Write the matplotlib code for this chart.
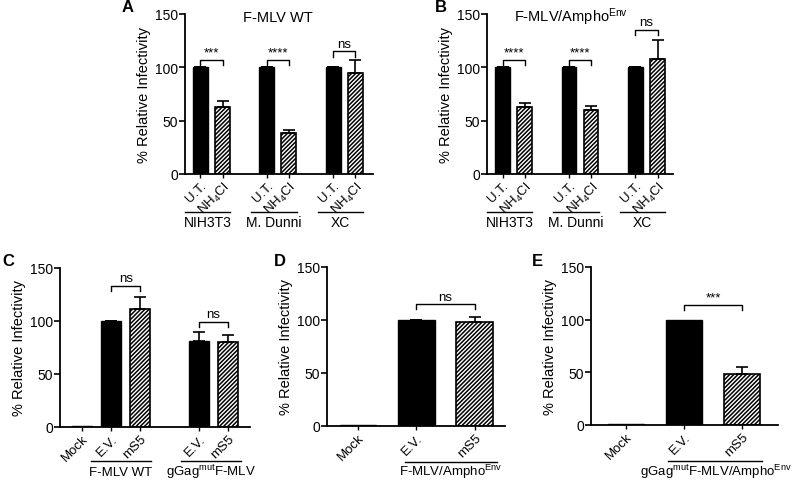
import matplotlib
matplotlib.use("Agg")
import matplotlib.pyplot as plt

plt.rcParams['font.family'] = ['Liberation Sans', 'DejaVu Sans']
plt.rcParams['mathtext.fontset'] = 'custom'
plt.rcParams['mathtext.rm'] = 'Liberation Sans'
plt.rcParams['mathtext.it'] = 'Liberation Sans:italic'
plt.rcParams['mathtext.bf'] = 'Liberation Sans:bold'
plt.rcParams['hatch.linewidth'] = 1.1

# ---------------- data ----------------
# Panel A: F-MLV WT
a_labels = ['U.T.', 'NH$_4$Cl', 'U.T.', 'NH$_4$Cl', 'U.T.', 'NH$_4$Cl']
a_values = [100, 63, 100, 38, 100, 95]
a_errors = [0.3, 5, 0.3, 3, 0.3, 12]
a_groups = ['NIH3T3', 'M. Dunni', 'XC']
a_sig = ['***', '****', 'ns']

# Panel B: F-MLV/Ampho Env
b_labels = ['U.T.', 'NH$_4$Cl', 'U.T.', 'NH$_4$Cl', 'U.T.', 'NH$_4$Cl']
b_values = [100, 63, 100, 60, 100, 108]
b_errors = [0.3, 4, 0.3, 4, 0.3, 18]
b_groups = ['NIH3T3', 'M. Dunni', 'XC']
b_sig = ['****', '****', 'ns']

# Panel C
c_labels = ['Mock', 'E.V.', 'mS5', 'E.V.', 'mS5']
c_values = [0.5, 100, 111, 81, 80]
c_errors = [0, 0.3, 12, 9, 7]
c_groups = ['F-MLV WT', r'gGag$^{\mathrm{mut}}$F-MLV']
c_sig = ['ns', 'ns']

# Panel D
d_labels = ['Mock', 'E.V.', 'mS5']
d_values = [0.5, 100, 98.5]
d_errors = [0, 0.3, 4]
d_groups = [r'F-MLV/Ampho$^{\mathrm{Env}}$']
d_sig = ['ns']

# Panel E
e_labels = ['Mock', 'E.V.', 'mS5']
e_values = [0.8, 100, 48.5]
e_errors = [0, 0, 7]
e_groups = [r'gGag$^{\mathrm{mut}}$F-MLV/Ampho$^{\mathrm{Env}}$']
e_sig = ['***']

W, H = 800, 481
fig = plt.figure(figsize=(8, 4.81), dpi=100)


def make_ax(left, right, top, bottom):
    return fig.add_axes([left / W, (H - bottom) / H, (right - left) / W, (bottom - top) / H])


def style(ax):
    for s in ['top', 'right']:
        ax.spines[s].set_visible(False)
    for s in ['left', 'bottom']:
        ax.spines[s].set_linewidth(1.3)
    ax.set_ylim(0, 150)
    ax.set_yticks([0, 50, 100, 150])
    ax.tick_params(axis='y', direction='out', length=4, width=1.2, labelsize=10, pad=1)
    ax.tick_params(axis='x', direction='out', length=3, width=1.0, labelsize=9.5, pad=1)
    ax.set_ylabel('% Relative Infectivity', fontsize=10.5, labelpad=3)


def draw_bars(ax, pos, vals, errs, hatched, width):
    for p, v, e, h in zip(pos, vals, errs, hatched):
        if h:
            ax.bar(p, v, width=width, color='white', edgecolor='black', hatch='////////',
                   linewidth=1.2, zorder=2)
        else:
            ax.bar(p, v, width=width, color='black', edgecolor='black', linewidth=1.0, zorder=2)
        if e > 0:
            ax.errorbar(p, v, yerr=[[0], [e]], fmt='none', ecolor='black', elinewidth=1.2,
                        capsize=4, capthick=1.2, zorder=3)


def bracket(ax, x1, x2, y, text, fs=9.5):
    ax.plot([x1, x1, x2, x2], [y - 5, y, y, y - 5], color='black', lw=1.0, clip_on=False)
    ax.text((x1 + x2) / 2, y + 1.5, text, ha='center', va='bottom', fontsize=fs)


def set_xlabels(ax, pos, labels):
    ax.set_xticks(pos)
    ax.set_xticklabels(labels, rotation=45, ha='right', va='top', rotation_mode='anchor')


def group_line(ax, x1, x2, yline, text, ytext, fs=10, xtext=None):
    ax.plot([x1, x2], [yline, yline], color='black', lw=1.0, clip_on=False,
            transform=ax.get_xaxis_transform())
    if xtext is None:
        xtext = (x1 + x2) / 2
    ax.text(xtext, ytext, text, ha='center', va='baseline', fontsize=fs,
            transform=ax.get_xaxis_transform())


# ---------- Panel A ----------
axA = make_ax(185, 373, 15, 175)
style(axA)
posA = [0, 1, 3, 4, 6, 7]
draw_bars(axA, posA, a_values, a_errors, [False, True] * 3, 0.68)
axA.set_xlim(-0.7, 7.8)
set_xlabels(axA, posA, a_labels)
brA = [107, 107, 115]
for i, (g, s) in enumerate(zip(a_groups, a_sig)):
    p0, p1 = posA[2 * i], posA[2 * i + 1]
    bracket(axA, p0, p1, brA[i], s)
    group_line(axA, p0 - 0.7, p1 + 0.35, -0.24, g, -0.325)
axA.text(3.5, 147, 'F-MLV WT', ha='center', va='center', fontsize=10.5)
fig.text(128 / W, 1 - 8 / H, 'A', fontsize=12, fontweight='bold', ha='center', va='center')

# ---------- Panel B ----------
axB = make_ax(487, 673, 15, 175)
style(axB)
posB = [0, 1, 3, 4, 6, 7]
draw_bars(axB, posB, b_values, b_errors, [False, True] * 3, 0.66)
axB.set_xlim(-0.7, 7.7)
set_xlabels(axB, posB, b_labels)
brB = [107, 107, 135]
for i, (g, s) in enumerate(zip(b_groups, b_sig)):
    p0, p1 = posB[2 * i], posB[2 * i + 1]
    bracket(axB, p0, p1, brB[i], s)
    group_line(axB, p0 - 0.7, p1 + 0.35, -0.24, g, -0.325)
axB.text(3.1, 148, r'F-MLV/Ampho$^{\mathrm{Env}}$', ha='center', va='center', fontsize=10.5)
fig.text(441 / W, 1 - 8 / H, 'B', fontsize=12, fontweight='bold', ha='center', va='center')

# ---------- Panel C ----------
axC = make_ax(60, 250, 269, 428)
style(axC)
posC = [0, 1, 2, 4, 5]
draw_bars(axC, posC, c_values, c_errors, [False, False, True, False, True], 0.68)
axC.set_xlim(-0.75, 5.75)
set_xlabels(axC, posC, c_labels)
bracket(axC, 1, 2, 133, c_sig[0])
bracket(axC, 4, 5, 99, c_sig[1])
group_line(axC, 0.3, 2.35, -0.213, c_groups[0], -0.302, fs=9.5)
group_line(axC, 3.4, 5.45, -0.213, c_groups[1], -0.302, fs=9.5)
fig.text(8 / W, 1 - 262 / H, 'C', fontsize=12, fontweight='bold', ha='center', va='center')

# ---------- Panel D ----------
axD = make_ax(327, 505, 268, 427)
style(axD)
posD = [0, 1, 2]
draw_bars(axD, posD, d_values, d_errors, [False, False, True], 0.63)
axD.set_xlim(-0.53, 2.52)
set_xlabels(axD, posD, d_labels)
bracket(axD, 1, 2, 115, d_sig[0])
group_line(axD, 0.8, 2.38, -0.225, d_groups[0], -0.308, fs=9.5)
fig.text(280 / W, 1 - 262 / H, 'D', fontsize=12, fontweight='bold', ha='center', va='center')

# ---------- Panel E ----------
axE = make_ax(591, 778, 268, 426)
style(axE)
posE = [0, 1, 2]
draw_bars(axE, posE, e_values, e_errors, [False, False, True], 0.62)
axE.set_xlim(-0.6, 2.62)
set_xlabels(axE, posE, e_labels)
bracket(axE, 1, 2, 114, e_sig[0])
group_line(axE, 0.72, 2.34, -0.225, e_groups[0], -0.316, fs=9.5, xtext=1.55)
fig.text(537 / W, 1 - 262 / H, 'E', fontsize=12, fontweight='bold', ha='center', va='center')

fig.savefig('out.png', dpi=100)
